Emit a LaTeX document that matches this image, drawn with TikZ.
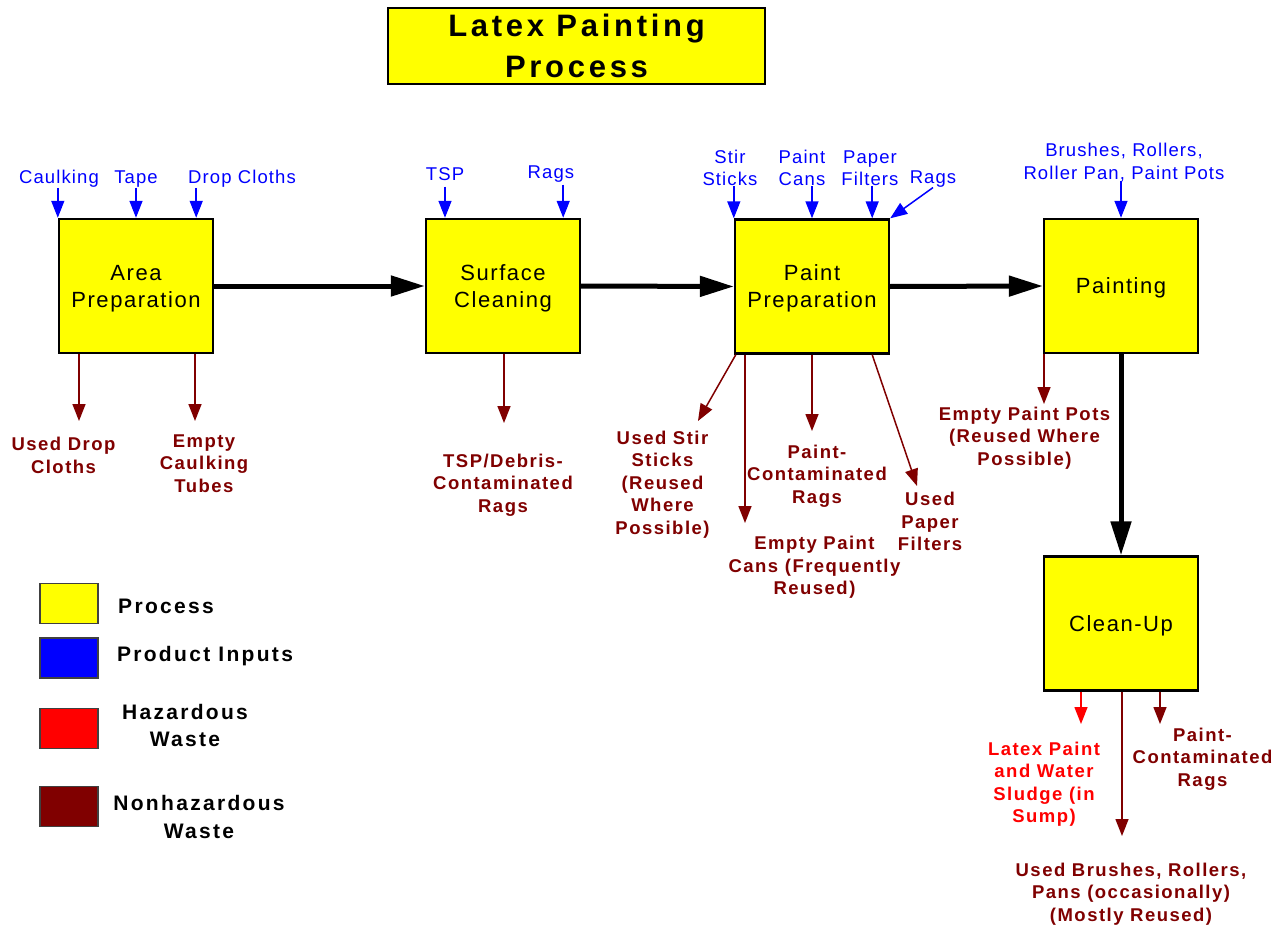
\documentclass[tikz,border=0pt]{standalone}
\usepackage{fontspec}
\setmainfont{Liberation Sans}
\newfontfamily\inpfont[LetterSpace=6]{Liberation Sans}
\newfontfamily\procfont[LetterSpace=7]{Liberation Sans}
\newfontfamily\wastefont[LetterSpace=8]{Liberation Sans}
\newfontfamily\legfont[LetterSpace=11]{Liberation Sans}
\newfontfamily\headfont[LetterSpace=12]{Liberation Sans}
\usetikzlibrary{arrows.meta}
\definecolor{inblue}{HTML}{0000FF}
\definecolor{hazred}{HTML}{FF0000}
\definecolor{nonhaz}{HTML}{800000}
\definecolor{procyellow}{HTML}{FFFF00}

\begin{document}
\begin{tikzpicture}[x=1pt,y=-1pt,
  proc/.style={draw=black, fill=procyellow, line width=2.4pt, minimum width=154pt,
    minimum height=134pt, inner sep=0pt, align=center, text depth=0pt,
    font=\procfont\fontsize{22}{27}\selectfont},
  headbox/.style={draw=black, fill=procyellow, line width=2pt, minimum width=377pt,
    minimum height=76pt, inner sep=0pt, align=center,
    font=\headfont\bfseries\fontsize{31}{41}\selectfont},
  inlbl/.style={text=inblue, font=\inpfont\fontsize{18.5}{22.5}\selectfont,
    align=center, inner sep=0pt, text depth=0pt},
  wlbl/.style={text=nonhaz, font=\wastefont\bfseries\fontsize{18.5}{22.5}\selectfont,
    align=center, inner sep=0pt},
  hlbl/.style={wlbl, text=hazred},
  leglbl/.style={font=\legfont\bfseries\fontsize{21}{27.5}\selectfont,
    align=center, inner sep=0pt},
  legbox/.style={draw=black!75, line width=1.2pt, minimum width=58pt,
    minimum height=40pt, inner sep=0pt},
  mainflow/.style={line width=5pt, -{Triangle[length=34pt,width=20pt]}},
  inp/.style={draw=inblue, line width=1.5pt, -{Triangle[length=17pt,width=13pt]}},
  wst/.style={draw=nonhaz, line width=1.5pt, -{Triangle[length=17pt,width=13pt]}},
  hz/.style={wst, draw=hazred}]

\fill[white] (0,0) rectangle (1288,928);
\useasboundingbox (0,0) rectangle (1288,928);

% title
\node[headbox] (title) at (576.5,46) {Latex Painting\\Process};

% process steps
\node[proc] (ap) at (136,286) {Area\\Preparation};
\node[proc] (sc) at (503,286) {Surface\\Cleaning};
\node[proc] (pp) at (812,286.5) {Paint\\Preparation};
\node[proc] (pt) at (1121,286) {Painting};
\node[proc] (cu) at (1121,623.5) {Clean-Up};

% main flow
\draw[mainflow] (ap.east) -- (sc.west);
\draw[mainflow] (sc.east) -- (pp.west);
\draw[mainflow] (pp.east) -- (pt.west);
\draw[mainflow] (pt.south) -- (cu.north);

% product inputs
\node[inlbl] (iCaulk) at (59,177) {Caulking};
\node[inlbl] (iTape) at (136,177) {Tape};
\node[inlbl] (iDrop) at (242,177) {Drop Cloths};
\node[inlbl] (iTSP) at (445,174) {TSP};
\node[inlbl] (iRagsA) at (551,172) {Rags};
\node[inlbl] (iStir) at (730,168) {Stir\\Sticks};
\node[inlbl] (iCans) at (802,168) {Paint\\Cans};
\node[inlbl] (iFilt) at (870,168) {Paper\\Filters};
\node[inlbl] (iRagsB) at (933,177) {Rags};
\node[inlbl] (iBrush) at (1124,161.5) {Brushes, Rollers,\\Roller Pan, Paint Pots};

\path ([xshift=-18pt]ap.north east) coordinate (apDrop)
      ([xshift=-18pt]sc.north east) coordinate (scRags)
      ([xshift=-18pt]pp.north east) coordinate (ppFilt);

\draw[inp] ([yshift=-4pt]iCaulk.south -| ap.north west) -- (ap.north west);
\draw[inp] ([yshift=-4pt]iTape.south) -- (iTape.south |- ap.north);
\draw[inp] ([yshift=-4pt]iDrop.south -| apDrop) -- (apDrop);
\draw[inp] ([yshift=-6pt]iTSP.south) -- (iTSP.south |- sc.north);
\draw[inp] ([yshift=-6pt]iRagsA.south -| scRags) -- (scRags);
\draw[inp] (iStir.south -| pp.north west) -- (pp.north west);
\draw[inp] (iCans.south -| pp.north) -- (pp.north);
\draw[inp] (iFilt.south -| ppFilt) -- (ppFilt);
\draw[inp] ([yshift=-4pt]iRagsB.south) -- (pp.north east);
\draw[inp] ([yshift=-1pt]iBrush.south -| pt.north) -- (pt.north);

% waste streams
\node[wlbl] (wDrop) at (63.5,455.5) {Used Drop\\Cloths};
\node[wlbl] (wTubes) at (204,463.5) {Empty\\Caulking\\Tubes};
\node[wlbl] (wTSP) at (503,485) {TSP/Debris-\\Contaminated\\Rags};
\node[wlbl] (wStir) at (662.5,484.5) {Used Stir\\Sticks\\(Reused\\Where\\Possible)};
\node[wlbl] (wPRags) at (817,476) {Paint-\\Contaminated\\Rags};
\node[wlbl] (wCans) at (814.5,567.5) {Empty Paint\\Cans (Frequently\\Reused)};
\node[wlbl] (wFilt) at (930,521.5) {Used\\Paper\\Filters};
\node[wlbl] (wPots) at (1024.5,438) {Empty Paint Pots\\(Reused Where\\Possible)};
\node[hlbl] (wSludge) at (1044,784) {Latex Paint\\and Water\\Sludge (in\\Sump)};
\node[wlbl] (wCRags) at (1202.5,759) {Paint-\\Contaminated\\Rags};
\node[wlbl] (wBrush) at (1131,894) {Used Brushes, Rollers,\\Pans (occasionally)\\(Mostly Reused)};

\coordinate (tDrop) at (79,421);
\coordinate (tTubes) at (195,421);
\coordinate (tTSP) at (504,423);
\coordinate (tStir) at (698,421);
\coordinate (tCans) at (745,523);
\coordinate (tPRags) at (812,431);
\coordinate (tFilt) at (917,486);
\coordinate (tPots) at (1044,404);
\coordinate (tSludge) at (1081,724);
\coordinate (tBrush) at (1122,836);
\coordinate (tCRags) at (1160,724);

\draw[wst] (ap.south -| tDrop) -- (tDrop);
\draw[wst] (ap.south -| tTubes) -- (tTubes);
\draw[wst] (sc.south -| tTSP) -- (tTSP);
\draw[wst] ([xshift=2pt]pp.south west) -- (tStir);
\draw[wst] (pp.south -| tCans) -- (tCans);
\draw[wst] (pp.south) -- (tPRags);
\draw[wst] ([xshift=-18pt]pp.south east) -- (tFilt);
\draw[wst] (pt.south -| tPots) -- (tPots);
\draw[hz] (cu.south -| tSludge) -- (tSludge);
\draw[wst] (cu.south -| tBrush) -- (tBrush);
\draw[wst] (cu.south -| tCRags) -- (tCRags);

% legend
\node[legbox, fill=procyellow] (kProc) at (69,603.5) {};
\node[legbox, fill=inblue] (kIn) at (69,658) {};
\node[legbox, fill=hazred] (kHaz) at (69,728.5) {};
\node[legbox, fill=nonhaz] (kNon) at (69,806.5) {};
\node[leglbl] (kProcL) at (166,606) {Process};
\node[leglbl] (kInL) at (205,656) {Product Inputs};
\node[leglbl] (kHazL) at (185,725.5) {Hazardous\\Waste};
\node[leglbl] (kNonL) at (199,817) {Nonhazardous\\Waste};
\end{tikzpicture}
\end{document}
